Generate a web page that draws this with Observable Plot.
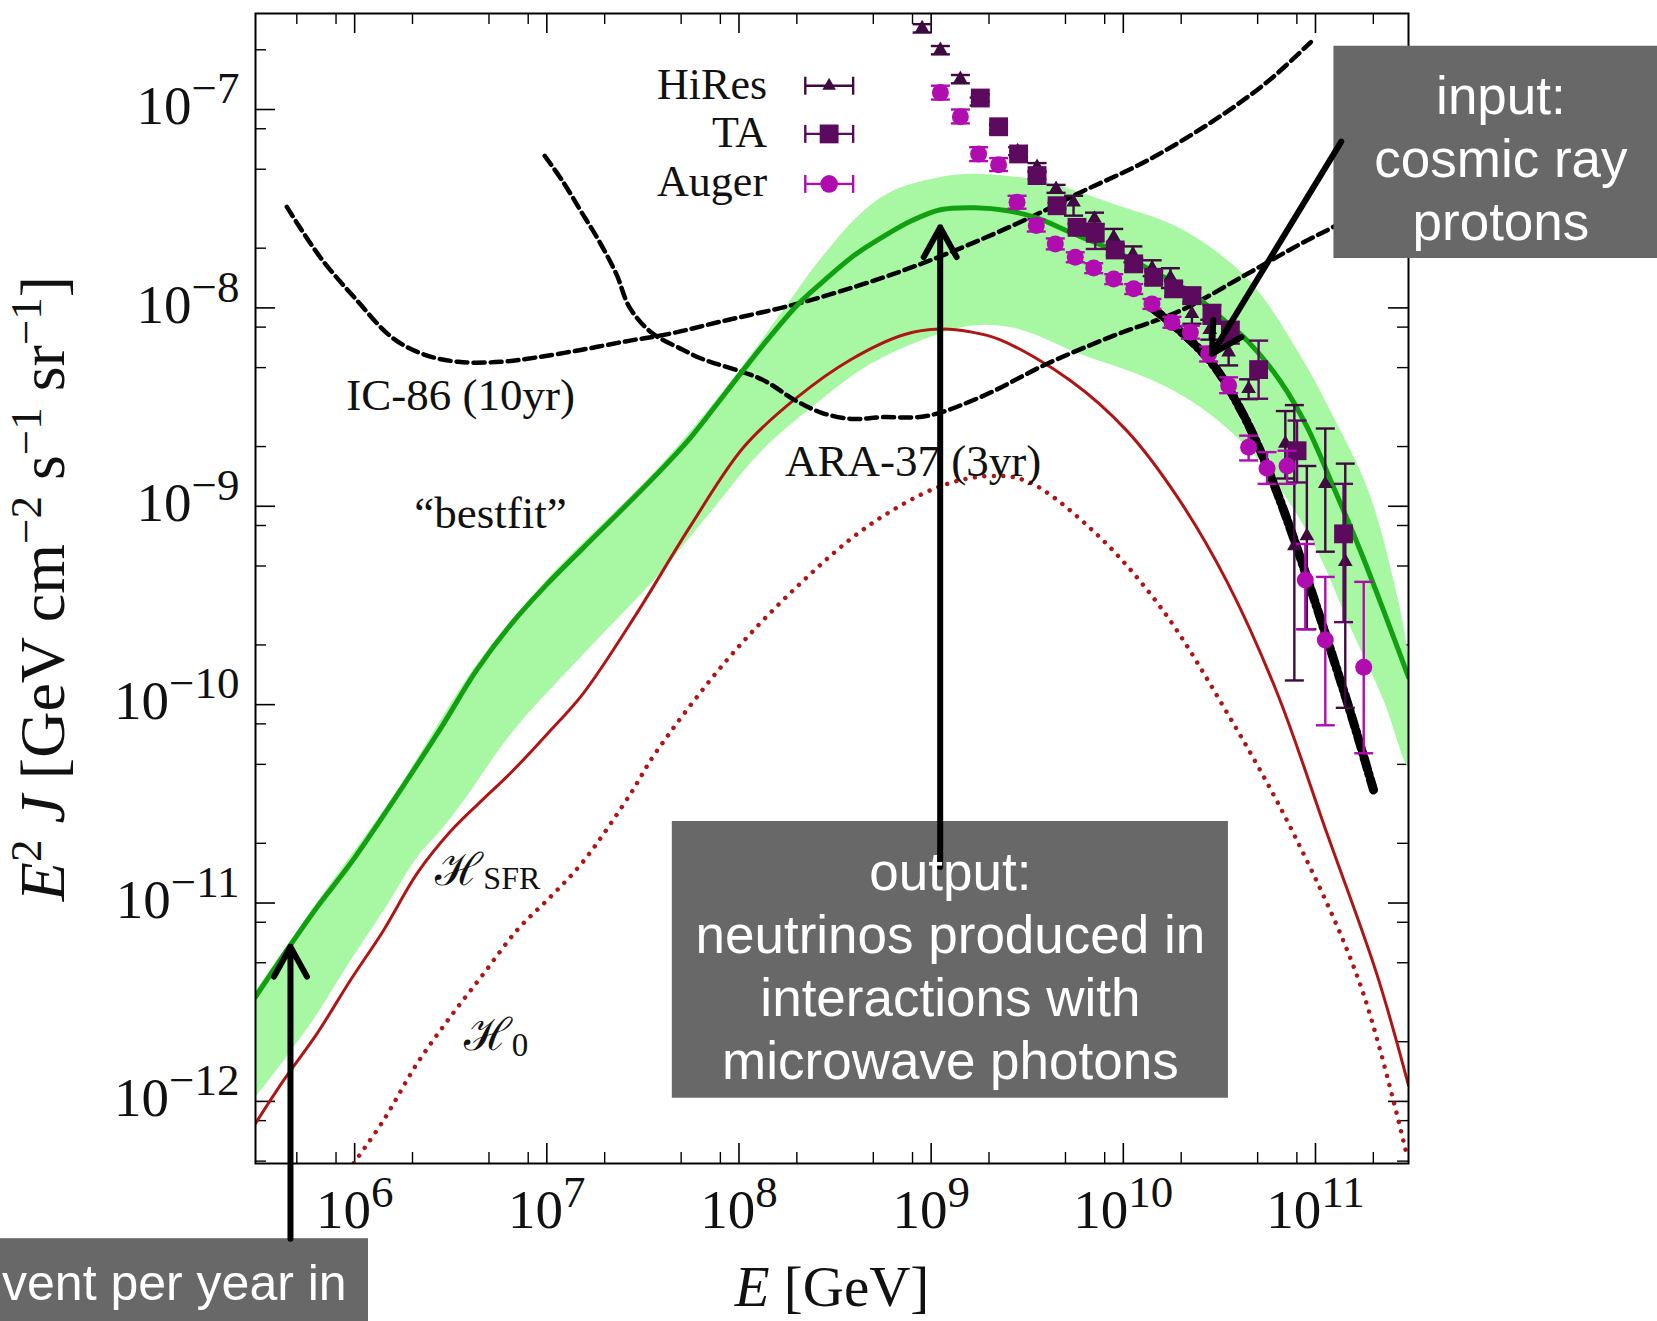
<!DOCTYPE html>
<html><head><meta charset="utf-8">
<script src="https://cdn.jsdelivr.net/npm/d3@7"></script>
<script src="https://cdn.jsdelivr.net/npm/@observablehq/plot@0.6"></script>
<style>html,body{margin:0;padding:0;background:#fff;overflow:hidden;} #chart{width:1657px;height:1321px;}</style>
</head><body><div id="chart"></div>
<script>
// ---- values: [log10 E/GeV, log10 E^2 J] ----
const greenLine = [[5.484,-11.473],[5.665,-11.213],[5.805,-11.02],[5.978,-10.801],[6.203,-10.482],[6.446,-10.122],[6.632,-9.83],[6.818,-9.59],[7.004,-9.39],[7.283,-9.12],[7.561,-8.85],[7.747,-8.655],[7.933,-8.425],[8.119,-8.195],[8.304,-7.985],[8.434,-7.87],[8.6,-7.735],[8.752,-7.64],[8.9,-7.56],[9.048,-7.505],[9.228,-7.495],[9.4,-7.51],[9.546,-7.545],[9.75,-7.63],[9.95,-7.711],[10.182,-7.83],[10.35,-7.92],[10.499,-8.042],[10.65,-8.17],[10.817,-8.37],[10.956,-8.60],[11.094,-8.904],[11.233,-9.223],[11.354,-9.525],[11.484,-9.861]];
const bandTop = [[5.484,-11.445],[5.805,-10.995],[6.203,-10.457],[6.632,-9.80],[7.004,-9.365],[7.561,-8.825],[7.933,-8.40],[8.215,-8.03],[8.418,-7.76],[8.637,-7.52],[8.8,-7.41],[9.0,-7.35],[9.17,-7.325],[9.4,-7.335],[9.6,-7.365],[9.95,-7.476],[10.297,-7.60],[10.644,-7.85],[10.921,-8.24],[11.094,-8.551],[11.268,-8.904],[11.389,-9.307],[11.484,-9.777]];
const bandBottom = [[5.484,-11.977],[5.631,-11.792],[5.805,-11.557],[5.978,-11.288],[6.151,-11.036],[6.325,-10.768],[6.446,-10.635],[6.568,-10.482],[6.818,-10.14],[7.19,-9.745],[7.561,-9.367],[7.84,-9.043],[8.119,-8.719],[8.398,-8.485],[8.676,-8.287],[8.955,-8.161],[9.2,-8.09],[9.43,-8.10],[9.776,-8.232],[10.14,-8.36],[10.4,-8.50],[10.66,-8.719],[10.834,-8.937],[11.008,-9.223],[11.181,-9.609],[11.354,-9.978],[11.484,-10.314]];
const sfrLine = [[5.484,-12.111],[5.631,-11.893],[5.805,-11.657],[5.978,-11.389],[6.151,-11.137],[6.325,-10.851],[6.498,-10.64],[6.654,-10.49],[6.818,-10.338],[7.0,-10.15],[7.19,-9.943],[7.468,-9.54],[7.747,-9.10],[8.026,-8.70],[8.304,-8.45],[8.583,-8.26],[8.862,-8.134],[9.048,-8.107],[9.2,-8.12],[9.36,-8.161],[9.724,-8.366],[10.019,-8.62],[10.279,-8.95],[10.54,-9.381],[10.80,-9.94],[11.06,-10.65],[11.32,-11.361],[11.484,-11.919]];
const h0Line = [[5.995,-12.312],[6.151,-12.094],[6.325,-11.809],[6.498,-11.574],[6.672,-11.355],[6.845,-11.137],[7.019,-10.969],[7.19,-10.79],[7.435,-10.45],[7.561,-10.25],[7.933,-9.78],[8.304,-9.403],[8.676,-9.097],[9.048,-8.899],[9.3,-8.848],[9.499,-8.874],[9.846,-9.127],[10.193,-9.508],[10.54,-10.041],[10.886,-10.65],[11.233,-11.411],[11.476,-12.274]];
const ic86 = [[5.647,-7.491],[5.821,-7.745],[6.007,-7.957],[6.193,-8.148],[6.355,-8.233],[6.54,-8.272],[6.759,-8.272],[6.944,-8.25],[7.177,-8.212],[7.409,-8.169],[7.641,-8.13],[7.9,-8.07],[8.3,-7.98],[8.74,-7.85],[9.1,-7.72],[9.516,-7.544],[9.776,-7.418],[10.123,-7.258],[10.47,-7.056],[10.75,-6.86],[10.976,-6.66]];
const ara37 = [[6.989,-7.234],[7.084,-7.364],[7.177,-7.512],[7.27,-7.66],[7.362,-7.83],[7.432,-8.0],[7.548,-8.127],[7.71,-8.212],[7.80,-8.254],[8.117,-8.36],[8.3,-8.47],[8.434,-8.53],[8.593,-8.56],[8.736,-8.551],[8.975,-8.545],[9.256,-8.45],[9.603,-8.282],[9.95,-8.14],[10.297,-8.014],[10.644,-7.829],[10.921,-7.678],[11.085,-7.596],[11.3,-7.48]];
const crInput = [[10.15,-8.00],[10.3,-8.12],[10.47,-8.29],[10.609,-8.51],[10.713,-8.72],[10.80,-8.93],[10.886,-9.16],[10.99,-9.46],[11.094,-9.77],[11.198,-10.09],[11.302,-10.43]];
// data points: [logE, logY, logY low, logY high]
const hires = [[8.953,-6.590,-6.612,-6.570],[9.048,-6.700,-6.722,-6.680],[9.152,-6.846,-6.868,-6.826],[9.25,-6.96,-6.98,-6.94],[9.35,-7.10,-7.12,-7.08],[9.45,-7.21,-7.23,-7.19],[9.551,-7.29,-7.31,-7.27],[9.65,-7.40,-7.42,-7.38],[9.741,-7.468,-7.535,-7.435],[9.85,-7.55,-7.58,-7.52],[9.95,-7.644,-7.703,-7.602],[10.05,-7.73,-7.77,-7.69],[10.15,-7.80,-7.84,-7.76],[10.245,-7.846,-7.90,-7.80],[10.357,-8.03,-8.08,-7.97],[10.45,-8.11,-8.16,-8.06],[10.548,-8.224,-8.29,-8.17],[10.652,-8.408,-8.46,-8.36],[10.843,-8.684,-8.86,-8.52],[10.89,-9.20,-9.878,-8.49],[10.955,-9.15,-9.62,-8.797],[11.051,-8.887,-9.229,-8.608],[11.155,-9.28,-10.016,-8.785]];
const ta = [[9.256,-6.942,-6.96,-6.925],[9.351,-7.087,-7.105,-7.07],[9.455,-7.224,-7.24,-7.21],[9.551,-7.333,-7.35,-7.315],[9.655,-7.485,-7.50,-7.47],[9.759,-7.594,-7.615,-7.575],[9.854,-7.624,-7.703,-7.577],[9.958,-7.708,-7.735,-7.68],[10.054,-7.778,-7.81,-7.75],[10.158,-7.846,-7.88,-7.815],[10.262,-7.904,-7.94,-7.87],[10.357,-7.938,-7.98,-7.90],[10.461,-8.030,-8.08,-7.985],[10.557,-8.123,-8.18,-8.07],[10.704,-8.311,-8.458,-8.165],[10.904,-8.720,-8.88,-8.568],[11.146,-9.139,-9.584,-8.887]];
const auger = [[9.048,-6.914,-6.95,-6.88],[9.152,-7.036,-7.07,-7.00],[9.247,-7.224,-7.26,-7.19],[9.351,-7.278,-7.31,-7.245],[9.447,-7.468,-7.50,-7.435],[9.547,-7.585,-7.615,-7.555],[9.646,-7.678,-7.705,-7.65],[9.750,-7.745,-7.77,-7.72],[9.846,-7.799,-7.825,-7.775],[9.950,-7.854,-7.88,-7.83],[10.054,-7.904,-7.93,-7.88],[10.149,-7.980,-8.005,-7.955],[10.253,-8.073,-8.10,-8.045],[10.349,-8.123,-8.155,-8.09],[10.444,-8.232,-8.27,-8.195],[10.548,-8.391,-8.43,-8.35],[10.652,-8.702,-8.769,-8.644],[10.748,-8.808,-8.887,-8.727],[10.852,-8.797,-8.887,-8.72],[10.947,-9.372,-9.62,-9.19],[11.051,-9.674,-10.104,-9.356],[11.251,-9.812,-10.245,-9.381]];
// ticks
const xMajor = [1e6,1e7,1e8,1e9,1e10,1e11];
const xMinor = [5e5,8e5,2e6,5e6,8e6,2e7,5e7,8e7,2e8,5e8,8e8,2e9,5e9,8e9,2e10,5e10,8e10,2e11];
const yMajor = [1e-12,1e-11,1e-10,1e-9,1e-8,1e-7];
const yMinor = [5e-13,8e-13,2e-12,5e-12,8e-12,2e-11,5e-11,8e-11,2e-10,5e-10,8e-10,2e-9,5e-9,8e-9,2e-8,5e-8,8e-8,2e-7];
const xTickLabels = ["10^{6}","10^{7}","10^{8}","10^{9}","10^{10}","10^{11}"];
const yTickLabels = ["10^{−12}","10^{−11}","10^{−10}","10^{−9}","10^{−8}","10^{−7}"];
// legend
const legendNames = ["HiRes","TA","Auger"];
const legendBaseline = [-6.947,-7.191,-7.434];
const legendMarkY = [-6.880,-7.123,-7.375];
// curve labels
const curveLabels = [
  {t:"IC-86 (10yr)", e:6.551, v:-8.517},
  {t:"ARA-37 (3yr)", e:8.906, v:-8.845},
  {t:"“bestfit”", e:6.707, v:-9.112}
];
const hLabels = [
  {t:"ℋ_{SFR}", e:6.42, v:-10.91},
  {t:"ℋ_{0}", e:6.568, v:-11.742}
];
// annotation overlays (data space)
const boxes = [
  {x1:11.096, x2:12.9, y1:-6.681, y2:-7.751},
  {x1:7.653, x2:10.547, y1:-10.589, y2:-11.984},
  {x1:4.0, x2:6.072, y1:-12.692, y2:-13.4}
];
const boxTexts = [
  {t:"input:\ncosmic ray\nprotons", e:11.965, v:-7.238},
  {t:"output:\nneutrinos produced in\ninteractions with\nmicrowave photons", e:9.10, v:-11.308}
];
const cutText = [{t:"vent per year in", e:4.165, v:-12.92}];
const arrows = [
  {x1:5.666, y1:-12.692, x2:5.666, y2:-11.221},
  {x1:9.047, y1:-10.818, x2:9.047, y2:-7.594},
  {x1:11.134, y1:-7.162, x2:10.461, y2:-8.232}
];

const L = v => Math.pow(10, v);
const PW = 1153, PH = 1150;
const cH = "#3e0a40", cT = "#5c0a5e", cA = "#b00cb0";
const GREEN = "#10a010", BAND = "#a8f7a3", RED = "#b01515";
const hcap = {draw(ctx, size){const r=Math.sqrt(size/Math.PI); ctx.moveTo(-r,0); ctx.lineTo(r,0);}};
const vcap = {draw(ctx, size){const r=Math.sqrt(size/Math.PI); ctx.moveTo(0,-r); ctx.lineTo(0,r);}};
const X = d => L(d[0]), Y = d => L(d[1]);

function dataset(arr, color, symbol, r) {
  return [
    Plot.ruleX(arr, {x: X, y1: d => L(d[2]), y2: d => L(d[3]), stroke: color, strokeWidth: 2.4}),
    Plot.dot(arr, {x: X, y: d => L(d[2]), symbol: hcap, r: 9.5, stroke: color, strokeWidth: 2.4, fill: "none"}),
    Plot.dot(arr, {x: X, y: d => L(d[3]), symbol: hcap, r: 9.5, stroke: color, strokeWidth: 2.4, fill: "none"}),
    Plot.dot(arr, {x: X, y: Y, symbol, r, fill: color, stroke: "none"})
  ];
}

const bandPoly = bandTop.concat(bandBottom.slice().reverse());
const legendRows = legendNames.map((n,i)=>({n, b:legendBaseline[i], m:legendMarkY[i]}));
const legendColors = [cH, cT, cA];
const legendSymbols = ["triangle2","square2","circle"];
const legendR = [6.5, 12, 8.8];
const SANS = "'Liberation Sans', Arial, sans-serif";

const marks = [
  Plot.tickY(yMajor, {y: d=>d, insetRight: PW-20, stroke:"black", strokeWidth:1.6}),
  Plot.tickY(yMajor, {y: d=>d, insetLeft: PW-20, stroke:"black", strokeWidth:1.6}),
  Plot.tickY(yMinor, {y: d=>d, insetRight: PW-11, stroke:"black", strokeWidth:1.4}),
  Plot.tickY(yMinor, {y: d=>d, insetLeft: PW-11, stroke:"black", strokeWidth:1.4}),
  Plot.tickX(xMajor, {x: d=>d, insetBottom: PH-20, stroke:"black", strokeWidth:1.6}),
  Plot.tickX(xMajor, {x: d=>d, insetTop: PH-20, stroke:"black", strokeWidth:1.6}),
  Plot.tickX(xMinor, {x: d=>d, insetBottom: PH-11, stroke:"black", strokeWidth:1.4}),
  Plot.tickX(xMinor, {x: d=>d, insetTop: PH-11, stroke:"black", strokeWidth:1.4}),
  Plot.line(bandPoly, {x: X, y: Y, fill: BAND, stroke: "none", curve: "catmull-rom", clip: true}),
  Plot.line(h0Line, {x: X, y: Y, stroke: RED, strokeWidth: 4.5, strokeDasharray: "0.01,9.5", strokeLinecap: "round", curve: "catmull-rom", clip: true}),
  Plot.line(sfrLine, {x: X, y: Y, stroke: RED, strokeWidth: 3, curve: "catmull-rom", clip: true}),
  Plot.line(ic86, {x: X, y: Y, stroke: "black", strokeWidth: 4.5, strokeDasharray: "11,6", curve: "catmull-rom", clip: true}),
  Plot.line(ara37, {x: X, y: Y, stroke: "black", strokeWidth: 4.5, strokeDasharray: "11,6", curve: "catmull-rom", clip: true}),
  Plot.line(greenLine, {x: X, y: Y, stroke: GREEN, strokeWidth: 5, curve: "catmull-rom", clip: true}),
  Plot.line(crInput, {x: X, y: Y, stroke: "white", strokeWidth: 10, strokeOpacity: 0.85, curve: "catmull-rom", clip: true}),
  Plot.line(crInput, {x: X, y: Y, stroke: "black", strokeWidth: 9, strokeDasharray: "12,4,2,4", curve: "catmull-rom", clip: true}),
  ...dataset(hires, cH, "triangle2", 7),
  ...dataset(ta, cT, "square2", 12),
  ...dataset(auger, cA, "circle", 8.5),
  Plot.text(legendRows, {x: L(8.146), y: d=>L(d.b), text: d=>d.n, textAnchor:"end", lineAnchor:"bottom", fontSize: 44, fill:"#111"}),
  Plot.ruleY(legendRows, {x1: L(8.345), x2: L(8.594), y: d=>L(d.m), stroke: (d,i)=>legendColors[i], strokeWidth: 2.4}),
  Plot.dot(legendRows, {x: L(8.345), y: d=>L(d.m), symbol: vcap, r: 9, stroke: (d,i)=>legendColors[i], strokeWidth: 2.4, fill:"none"}),
  Plot.dot(legendRows, {x: L(8.594), y: d=>L(d.m), symbol: vcap, r: 9, stroke: (d,i)=>legendColors[i], strokeWidth: 2.4, fill:"none"}),
  ...legendRows.map((d,i)=>Plot.dot([d], {x: L(8.469), y: L(d.m), symbol: legendSymbols[i], r: legendR[i], fill: legendColors[i], stroke:"none"})),
  Plot.text(curveLabels, {x: d=>L(d.e), y: d=>L(d.v), text: d=>d.t, textAnchor:"middle", lineAnchor:"bottom", fontSize: 45, fill:"#111"}),
  Plot.text(hLabels, {x: d=>L(d.e), y: d=>L(d.v), text: d=>d.t, textAnchor:"start", lineAnchor:"bottom", fontSize: 45, fontFamily: "'DejaVu Serif', serif", fill:"#111"}),
  Plot.text(xMajor, {x: d=>d, frameAnchor:"bottom", text: (d,i)=>xTickLabels[i], textAnchor:"middle", lineAnchor:"bottom", dy: 64, fontSize: 55, fill:"#111"}),
  Plot.text(yMajor, {y: d=>d, frameAnchor:"left", text: (d,i)=>yTickLabels[i], textAnchor:"end", lineAnchor:"middle", dx: -16, dy: -3, fontSize: 55, fill:"#111"}),
  Plot.text(["*E* [GeV]"], {frameAnchor:"bottom", text: d=>d, textAnchor:"middle", lineAnchor:"bottom", dy: 142, fontSize: 57, fill:"#111"}),
  Plot.text(["*E*^{2} *J* [GeV cm^{−2} s^{−1} sr^{−1}]"], {frameAnchor:"left", text: d=>d, rotate: -90, textAnchor:"middle", lineAnchor:"bottom", dx: -192, fontSize: 64, fill:"#111"}),
  Plot.frame({stroke:"black", strokeWidth: 2}),
  Plot.rect(boxes, {x1: d=>L(d.x1), x2: d=>L(d.x2), y1: d=>L(d.y1), y2: d=>L(d.y2), fill: "#686868"}),
  Plot.arrow(arrows, {x1: d=>L(d.x1), y1: d=>L(d.y1), x2: d=>L(d.x2), y2: d=>L(d.y2), stroke: "black", strokeWidth: 6, headLength: 8.5, headAngle: 58}),
  Plot.text(boxTexts, {x: d=>L(d.e), y: d=>L(d.v), text: d=>d.t, textAnchor: "middle", lineAnchor:"middle", lineHeight: 1.19, fontSize: 53, fontFamily: SANS, fill: "white"}),
  Plot.text(cutText, {x: d=>L(d.e), y: d=>L(d.v), text: d=>d.t, textAnchor: "start", lineAnchor:"middle", fontSize: 50, fontFamily: SANS, fill: "white"})
];

const chart = Plot.plot({
  width: 1657, height: 1321,
  marginLeft: 255, marginRight: 249, marginTop: 13, marginBottom: 158,
  x: {type: "log", domain: [L(5.484), L(11.484)], axis: null},
  y: {type: "log", domain: [L(-12.313), L(-6.516)], axis: null},
  style: {fontFamily: "'Liberation Serif', 'Times New Roman', serif", background: "white"},
  marks
});
document.getElementById("chart").append(chart);

// turn ^{..}, _{..} and *..* markup into tspans
const richOpts = [
  {test: s => s.startsWith("10^{"), o: {supSize: 45, supRaise: 21}},
  {test: s => s.includes("SFR"), o: {subSize: 32, subDrop: 4}},
  {test: s => s.includes("ℋ"), o: {subSize: 33, subDrop: 6}},
  {test: s => s.startsWith("*E*^{2}"), o: {supSize: 45, supRaise: 23}},
  {test: s => s.startsWith("*E* ["), o: {supSize: 40, supRaise: 20}}
];
chart.querySelectorAll("text").forEach(el => {
  if (el.children.length) return;
  const src = el.textContent;
  const hit = richOpts.find(r => r.test(src));
  if (!hit) return;
  const o = hit.o;
  el.textContent = "";
  const re = /\^\{([^}]*)\}|_\{([^}]*)\}|\*([^*]*)\*|([^\^_*]+)/g;
  let m, cur = 0;
  while ((m = re.exec(src))) {
    const ts = document.createElementNS("http://www.w3.org/2000/svg", "tspan");
    let target = 0, txt;
    if (m[1] !== undefined) { target = -o.supRaise; ts.setAttribute("font-size", o.supSize); txt = m[1]; }
    else if (m[2] !== undefined) { target = o.subDrop; ts.setAttribute("font-size", o.subSize); ts.setAttribute("font-family", "'Liberation Serif', serif"); txt = m[2]; }
    else if (m[3] !== undefined) { ts.setAttribute("font-style", "italic"); txt = m[3]; }
    else txt = m[4];
    if (target !== cur) { ts.setAttribute("dy", target - cur); cur = target; }
    ts.textContent = txt;
    el.appendChild(ts);
  }
});
</script></body></html>
